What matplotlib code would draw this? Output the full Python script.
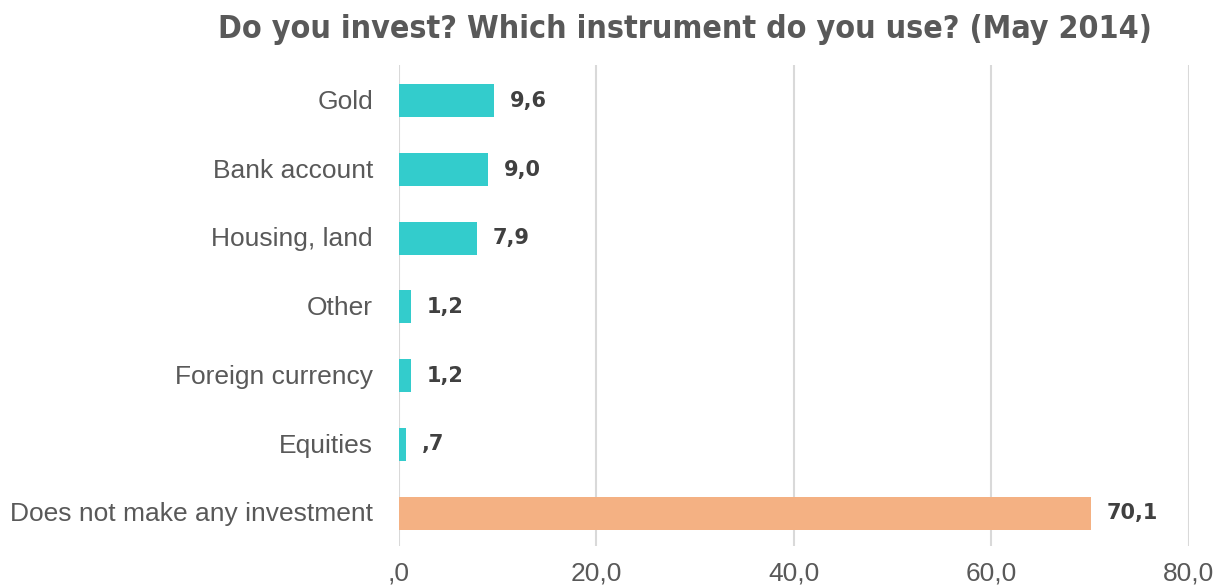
import matplotlib.pyplot as plt
import numpy as np

categories = ['Gold', 'Bank account', 'Housing, land', 'Other',
              'Foreign currency', 'Equities', 'Does not make any investment']
values = [9.6, 9.0, 7.9, 1.2, 1.2, 0.7, 70.1]
value_labels = ['9,6', '9,0', '7,9', '1,2', '1,2', ',7', '70,1']
x_ticks = [0, 20, 40, 60, 80]
x_tick_labels = [',0', '20,0', '40,0', '60,0', '80,0']

teal = '#33CCCC'
salmon = '#F4B183'
grey = '#595959'

fig = plt.figure(figsize=(12.27, 5.86), dpi=100)
ax = fig.add_axes([0.325, 0.068, 0.644, 0.821])

y = np.arange(len(categories))
colors = [salmon if c.startswith('Does') else teal for c in categories]
ax.barh(y + 0.02, values, height=0.48, color=colors, zorder=3)

for yi, v, lab in zip(y, values, value_labels):
    ax.text(v + 1.6, yi + 0.02, lab, va='center', ha='left', fontsize=15,
            fontweight='bold', color='#404040', family='DejaVu Sans')

ax.set_yticks(y)
ax.set_yticklabels(categories, fontsize=19, color=grey, family='Liberation Sans')
ax.set_ylim(len(categories) - 0.5, -0.5)
ax.set_xlim(0, 80)
ax.set_xticks(x_ticks)
ax.set_xticklabels(x_tick_labels, fontsize=19, color=grey, family='Liberation Sans')
ax.tick_params(axis='both', length=0)
ax.tick_params(axis='y', pad=18.5)
ax.tick_params(axis='x', pad=11)

ax.grid(axis='x', color='#D9D9D9', linewidth=1.5, zorder=0)
for s in ax.spines.values():
    s.set_visible(False)

fig.text(0.558, 0.950, 'Do you invest? Which instrument do you use? (May 2014)',
         ha='center', va='center', fontsize=23, fontweight='heavy',
         color=grey, family='DejaVu Sans', fontstretch='condensed')

fig.savefig('out.png', dpi=100, facecolor='white')
